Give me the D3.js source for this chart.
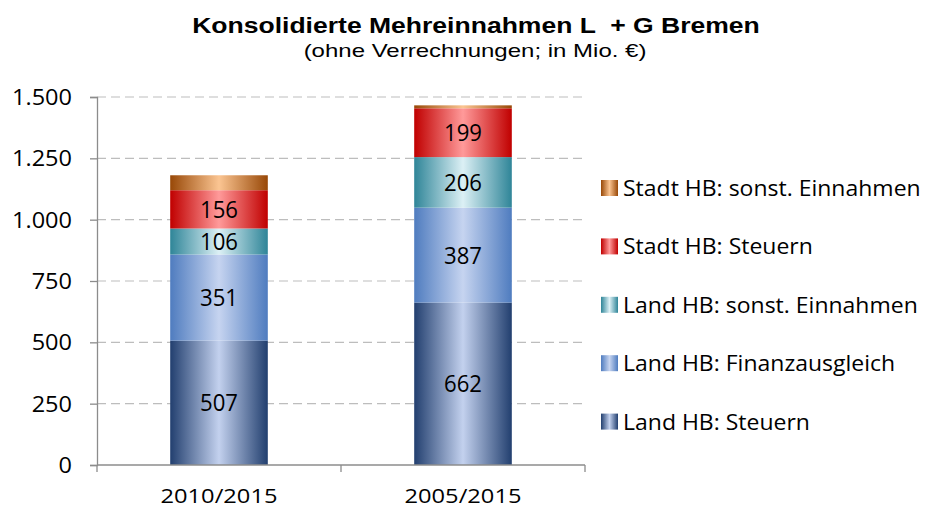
<!DOCTYPE html>
<html><head><meta charset="utf-8">
<script src="https://cdn.jsdelivr.net/npm/d3@7"></script>
<style>body{margin:0;background:#fff}</style>
</head><body>
<svg id="c" width="926" height="510"></svg>
<script>
const categories = ["2010/2015", "2005/2015"];
const seriesNames = ["Land HB: Steuern", "Land HB: Finanzausgleich", "Land HB: sonst. Einnahmen", "Stadt HB: Steuern", "Stadt HB: sonst. Einnahmen"];
const landSteuern = [507, 662];
const landFinanz = [351, 387];
const landSonst = [106, 206];
const stadtSteuern = [156, 199];
const stadtSonst = [61, 12];
const yTicks = [0, 250, 500, 750, 1000, 1250, 1500];
const showLabel = [true, true, true, true, false];
const title = "Konsolidierte Mehreinnahmen L  + G Bremen";
const subtitle = "(ohne Verrechnungen; in Mio. €)";

const edge = ["#223f6f", "#4f7cbf", "#2f8598", "#c00000", "#984807"];
const center = ["#c3d1ee", "#c6d4f0", "#dcf0f5", "#ff9a9a", "#fbc592"];

const svg = d3.select("#c");
const font = "'Open Sans', 'Noto Sans', sans-serif";
const arial = "'Liberation Sans', Arial, sans-serif";
const defs = svg.append("defs");
edge.forEach((e, i) => {
  const g = defs.append("linearGradient").attr("id", "g" + i).attr("x1", "0%").attr("x2", "100%").attr("y1", "0%").attr("y2", "0%");
  g.append("stop").attr("offset", "0%").attr("stop-color", e);
  g.append("stop").attr("offset", "50%").attr("stop-color", center[i]);
  g.append("stop").attr("offset", "100%").attr("stop-color", e);
});

function factor(str, family, size, weight, target) {
  const t = svg.append("text").attr("font-family", family).attr("font-size", size)
    .attr("font-weight", weight).attr("xml:space", "preserve").text(str);
  const w = t.node().getComputedTextLength();
  t.remove();
  return target / w;
}
function place(sel, xf, yf, sx) {
  sel.attr("x", 0).attr("y", 0).attr("transform", (d, i) => `translate(${xf(d, i)},${yf(d, i)}) scale(${sx},1)`);
}

const x = d3.scaleBand().domain(categories).range([97, 585]).paddingInner(0.6).paddingOuter(0.3);
const y = d3.scaleLinear().domain([0, 1500]).range([465, 97]);

svg.append("g").selectAll("line").data(yTicks.filter(d => d > 0)).join("line")
  .attr("x1", 97).attr("x2", 585).attr("y1", d => y(d)).attr("y2", d => y(d))
  .attr("stroke", "#bdbdbd").attr("stroke-width", 1.2).attr("stroke-dasharray", "9,5");

const series = [landSteuern, landFinanz, landSonst, stadtSteuern, stadtSonst];
const rows = categories.map((c, j) => { const o = { cat: c }; seriesNames.forEach((s, i) => o[s] = series[i][j]); return o; });
const stacked = d3.stack().keys(seriesNames)(rows);

const valF = factor("507", font, 24, "normal", 38);
const gb = svg.append("g");
stacked.forEach((layer, i) => {
  gb.selectAll(null).data(layer).join("rect")
    .attr("x", d => x(d.data.cat)).attr("width", x.bandwidth())
    .attr("y", d => y(d[1])).attr("height", d => y(d[0]) - y(d[1]))
    .attr("fill", `url(#g${i})`);
  if (showLabel[i]) {
    const t = gb.selectAll(null).data(layer).join("text")
      .attr("text-anchor", "middle")
      .attr("font-family", font).attr("font-size", 24).attr("fill", "#000")
      .text(d => d[1] - d[0]);
    place(t, d => x(d.data.cat) + x.bandwidth() / 2, d => (y(d[0]) + y(d[1])) / 2 + 8.6, valF);
  }
});

const fmt = d => d3.format(",")(d).replace(/,/g, ".");
const ya = svg.append("g").attr("transform", "translate(97,0)")
  .call(d3.axisLeft(y).tickValues(yTicks).tickSize(7).tickFormat(fmt));
ya.select(".domain").attr("stroke", "#8c8c8c").attr("stroke-width", 1.3);
ya.selectAll(".tick line").attr("stroke", "#8c8c8c").attr("stroke-width", 1.3);
const tickF = factor("1.500", font, 21, "normal", 60);
const yt = ya.selectAll(".tick text").attr("font-family", font).attr("font-size", 21).attr("fill", "#000").attr("dy", null);
place(yt, () => -25, () => 7.4, tickF);

svg.append("line").attr("x1", 97).attr("x2", 585).attr("y1", 465).attr("y2", 465).attr("stroke", "#8c8c8c").attr("stroke-width", 1.3);
const bounds = [97, (x(categories[0]) + x.bandwidth() + x(categories[1])) / 2, 585];
svg.append("g").selectAll("line").data(bounds).join("line")
  .attr("x1", d => d).attr("x2", d => d).attr("y1", 465).attr("y2", 472)
  .attr("stroke", "#8c8c8c").attr("stroke-width", 1.3);
const catF = factor("2010/2015", font, 20, "normal", 117);
const ct = svg.append("g").selectAll("text").data(categories).join("text")
  .attr("text-anchor", "middle").attr("font-family", font).attr("font-size", 20).text(d => d);
place(ct, d => x(d) + x.bandwidth() / 2, () => 503, catF);

const tF = factor(title, arial, 22, "bold", 568);
const tt = svg.append("text").attr("text-anchor", "middle")
  .attr("font-family", arial).attr("font-weight", "bold").attr("font-size", 22)
  .attr("xml:space", "preserve").text(title);
place(tt, () => 476, () => 33, tF);
const sF = factor(subtitle, arial, 18, "normal", 343);
const st = svg.append("text").attr("text-anchor", "middle")
  .attr("font-family", arial).attr("font-size", 18).text(subtitle);
place(st, () => 475, () => 57, sF);

const legOrder = [4, 3, 2, 1, 0];
const legF = factor("Land HB: Steuern", font, 22, "normal", 187);
const lg = svg.append("g");
legOrder.forEach((si, k) => {
  const base = 196 + k * 58.4;
  lg.append("rect").attr("x", 601).attr("y", base - 16).attr("width", 17).attr("height", 16).attr("fill", `url(#g${si})`);
  const t = lg.append("text").datum(si).attr("font-family", font).attr("font-size", 22).text(seriesNames[si]);
  place(t, () => 623, () => base, legF);
});
</script>
</body></html>
